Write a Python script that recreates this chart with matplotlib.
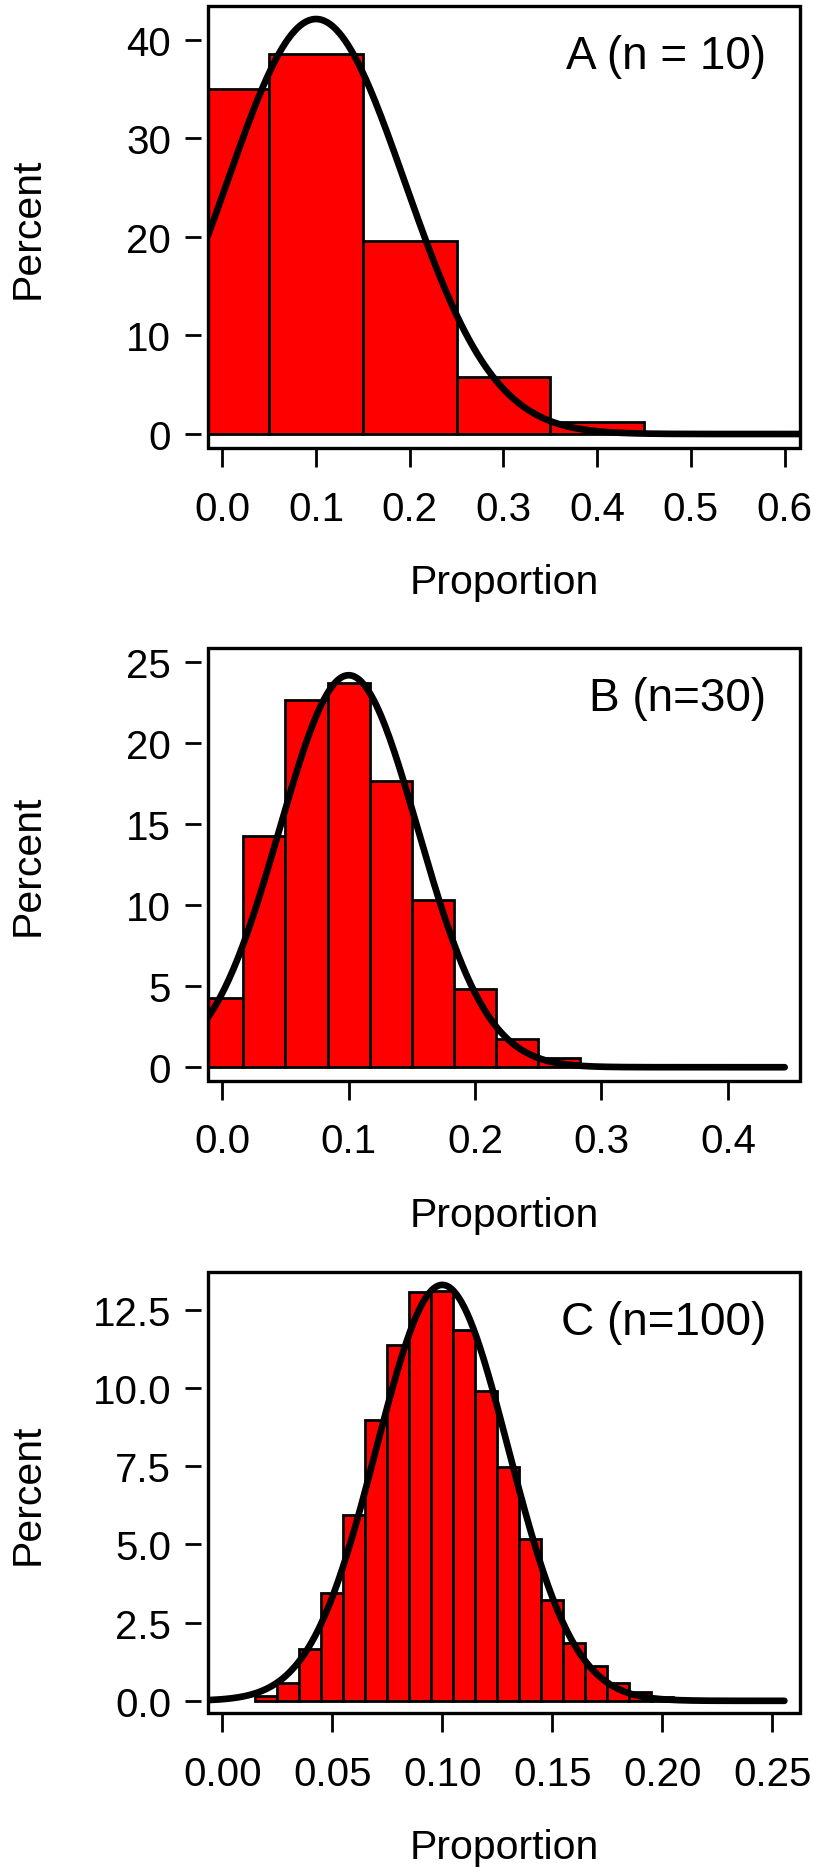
import matplotlib
matplotlib.use("Agg")
import matplotlib.pyplot as plt
from matplotlib.patches import Rectangle
import numpy as np

plt.rcParams['font.family'] = ['Liberation Sans', 'DejaVu Sans']

# panel A (n = 10): bar centres, percent per bar
a_centers = [0.0, 0.1, 0.2, 0.3, 0.4]
a_pct = [35.0, 38.6, 19.6, 5.8, 1.2]
a_width = 0.1
a_xticks = [0.0, 0.1, 0.2, 0.3, 0.4, 0.5, 0.6]
a_yticks = [0, 10, 20, 30, 40]

# panel B (n=30)
b_centers = [0/30, 1/30, 2/30, 3/30, 4/30, 5/30, 6/30, 7/30, 8/30]
b_pct = [4.3, 14.3, 22.7, 23.7, 17.7, 10.3, 4.85, 1.75, 0.55]
b_width = 1 / 30
b_xticks = [0.0, 0.1, 0.2, 0.3, 0.4]
b_yticks = [0, 5, 10, 15, 20, 25]

# panel C (n=100)
c_centers = [0.02, 0.03, 0.04, 0.05, 0.06, 0.07, 0.08, 0.09, 0.10, 0.11,
             0.12, 0.13, 0.14, 0.15, 0.16, 0.17, 0.18, 0.19, 0.20]
c_pct = [0.17, 0.57, 1.66, 3.46, 5.94, 8.97, 11.38, 13.07, 13.1, 11.86,
         9.92, 7.49, 5.18, 3.23, 1.85, 1.12, 0.57, 0.29, 0.12]
c_width = 0.01
c_xticks = [0.00, 0.05, 0.10, 0.15, 0.20, 0.25]
c_yticks = [0.0, 2.5, 5.0, 7.5, 10.0, 12.5]

# normal curve: centre, spread, peak height, x span
curve_mean = [0.1, 0.1, 0.1]
curve_sd = [0.0949, 0.0548, 0.030]
curve_peak = [42.1, 24.2, 13.3]
curve_span = [(-0.0156, 0.62), (-0.0116, 0.445), (-0.0057, 0.2555)]

labels = ["A (n = 10)", "B (n=30)", "C (n=100)"]

fig = plt.figure(figsize=(8.19, 18.74), dpi=100)

rects = [[0.2536, 0.7604, 0.7232, 0.2357],
         [0.2536, 0.4228, 0.7232, 0.2307],
         [0.2536, 0.0852, 0.7232, 0.2353]]
xlims = [(-0.0156, 0.6165), (-0.01155, 0.4571), (-0.00664, 0.2626)]
ylims = [(-1.42, 43.39), (-0.83, 25.86), (-0.40, 13.70)]

panels = [(a_centers, a_pct, a_width, a_xticks, a_yticks, "%.1f", "%d"),
          (b_centers, b_pct, b_width, b_xticks, b_yticks, "%.1f", "%d"),
          (c_centers, c_pct, c_width, c_xticks, c_yticks, "%.2f", "%.1f")]

for i, (cen, pct, w, xt, yt, xf, yf) in enumerate(panels):
    ax = fig.add_axes(rects[i])
    ax.bar(cen, pct, width=w, color="#ff0000", edgecolor="black",
           linewidth=2.0, zorder=2)

    xs = np.linspace(curve_span[i][0], curve_span[i][1], 400)
    ys = curve_peak[i] * np.exp(-0.5 * ((xs - curve_mean[i]) / curve_sd[i]) ** 2)
    ax.plot(xs, ys, color="black", lw=4.8, solid_capstyle="round", zorder=3)

    ax.set_xlim(xlims[i])
    ax.set_ylim(ylims[i])

    for s in ax.spines.values():
        s.set_visible(False)
    ax.spines['left'].set_position(('outward', 5))
    ax.add_patch(Rectangle((0, 0), 1, 1, transform=ax.transAxes, fill=False,
                           edgecolor="black", lw=2.4, clip_on=False, zorder=5))

    ax.set_xticks(xt)
    ax.set_xticklabels([xf % v for v in xt])
    ax.set_yticks(yt)
    ax.set_yticklabels([yf % v for v in yt])
    ax.tick_params(axis='x', direction='out', length=14, width=2, pad=16,
                   labelsize=29)
    ax.tick_params(axis='y', direction='out', length=11.7, width=2, pad=9.6,
                   labelsize=29)

    ax.text(-0.304, 0.5, "Percent", transform=ax.transAxes, rotation=90,
            ha="center", va="center", fontsize=29.5)
    ax.annotate("Proportion", xy=(0.5, 0), xycoords="axes fraction",
                xytext=(0, -145), textcoords="offset pixels",
                ha="center", va="baseline", fontsize=29.5)
    ax.annotate(labels[i], xy=(1, 1), xycoords="axes fraction",
                xytext=(-34, -50), textcoords="offset pixels",
                ha="right", va="center", fontsize=33)

fig.savefig("out.png", dpi=100)
